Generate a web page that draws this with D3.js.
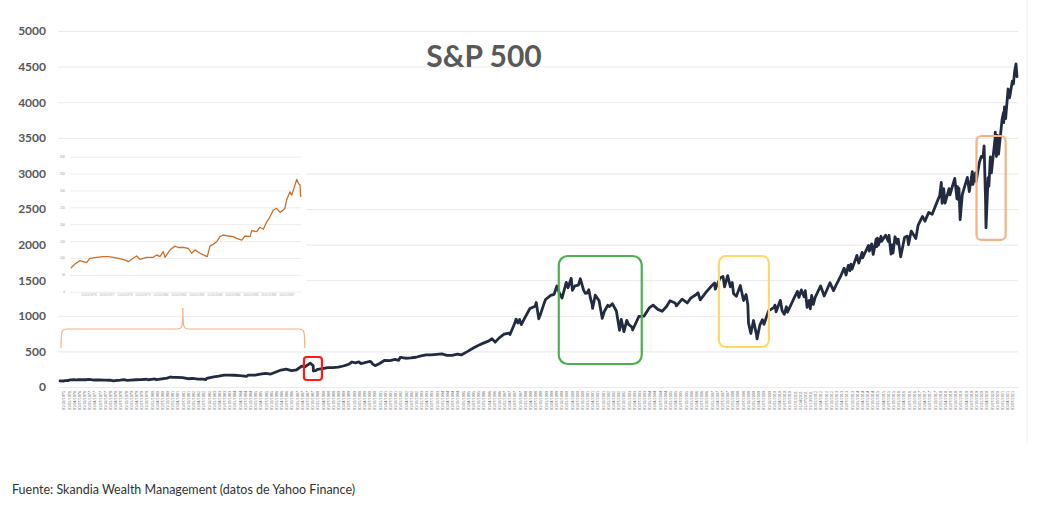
<!DOCTYPE html>
<html><head><meta charset="utf-8">
<script src="https://cdn.jsdelivr.net/npm/d3@7"></script>
<style>body{margin:0;background:#fff}svg{display:block}</style>
</head><body>
<svg id="c" width="1064" height="519"></svg>
<script>
// ---------- DATA ----------
const yTicks = [0,500,1000,1500,2000,2500,3000,3500,4000,4500,5000];
const mainSeries = [
["1975-08-01",85],["1975-09-28",84],["1975-10-28",89],["1975-11-28",91],["1975-12-28",90],
["1976-01-28",101],["1976-02-28",100],["1976-03-28",103],["1976-04-28",101],["1976-05-28",100],["1976-06-28",104],["1976-08-28",102],["1976-09-28",105],["1976-10-28",102],["1976-12-28",107],
["1977-03-28",98],["1977-06-28",100],["1977-09-28",96],["1977-12-28",95],
["1978-02-28",87],["1978-03-28",89],["1978-06-28",96],["1978-08-28",103],["1978-10-28",93],["1978-12-28",96],
["1979-03-28",102],["1979-06-28",103],["1979-09-28",109],["1979-10-28",102],["1979-12-28",108],
["1980-02-28",114],["1980-03-28",102],["1980-06-28",115],["1980-09-28",125],["1980-11-28",141],["1980-12-28",136],
["1981-03-28",136],["1981-06-28",131],["1981-09-28",116],["1981-12-28",122],
["1982-03-28",112],["1982-06-28",110],["1982-08-10",103],["1982-08-28",120],["1982-10-28",133],["1982-12-28",141],
["1983-03-28",153],["1983-06-28",168],["1983-09-28",166],["1983-12-28",165],
["1984-03-28",159],["1984-06-28",153],["1984-07-28",150],["1984-08-28",167],["1984-12-28",167],
["1985-03-28",181],["1985-06-28",192],["1985-09-28",182],["1985-12-28",211],
["1986-03-28",238],["1986-06-28",251],["1986-09-28",231],["1986-12-28",242],
["1987-03-28",292],["1987-05-28",285],["1987-06-28",304],["1987-08-25",334],["1987-10-15",300],["1987-10-19",225],["1987-11-28",230],["1987-12-28",247],
["1988-03-28",259],["1988-06-28",273],["1988-09-28",272],["1988-12-28",278],
["1989-03-28",295],["1989-06-28",318],["1989-08-28",351],["1989-10-28",340],["1989-12-28",353],
["1990-01-28",329],["1990-03-28",339],["1990-06-28",358],["1990-07-28",356],["1990-08-28",322],["1990-10-11",300],["1990-12-28",330],
["1991-03-28",375],["1991-06-28",371],["1991-09-28",388],["1991-11-28",375],["1991-12-28",417],
["1992-03-28",404],["1992-06-28",408],["1992-09-28",418],["1992-12-28",436],
["1993-03-28",452],["1993-06-28",451],["1993-09-28",459],["1993-12-28",466],
["1994-03-28",445],["1994-06-28",444],["1994-09-28",463],["1994-12-08",450],["1994-12-28",459],
["1995-03-28",500],["1995-06-28",545],["1995-09-28",584],["1995-12-28",616],
["1996-03-28",645],["1996-05-28",678],["1996-07-24",630],["1996-09-28",687],["1996-12-28",741],
["1997-03-28",757],["1997-04-11",737],["1997-06-28",885],["1997-07-28",954],["1997-08-28",899],["1997-09-28",947],["1997-10-27",876],["1997-12-28",970],
["1998-03-28",1102],["1998-06-28",1134],["1998-07-17",1186],["1998-08-31",957],["1998-09-28",1017],["1998-11-28",1164],["1998-12-28",1229],
["1999-03-28",1286],["1999-05-28",1302],["1999-07-16",1418],["1999-08-28",1320],["1999-10-15",1250],["1999-12-28",1469],
["2000-01-28",1394],["2000-03-24",1527],["2000-04-14",1357],["2000-05-28",1420],["2000-07-28",1430],["2000-09-01",1520],["2000-10-28",1360],["2000-11-28",1315],["2000-12-28",1320],
["2001-01-28",1366],["2001-02-28",1240],["2001-03-28",1160],["2001-04-04",1103],["2001-05-21",1290],["2001-07-28",1211],["2001-09-21",965],["2001-10-28",1060],["2001-12-28",1148],
["2002-01-28",1130],["2002-03-19",1170],["2002-05-28",1067],["2002-07-23",797],["2002-08-22",950],["2002-09-28",815],["2002-10-09",777],["2002-11-27",936],["2002-12-28",880],
["2003-02-28",841],["2003-03-11",800],["2003-06-28",990],["2003-09-28",996],["2003-12-28",1111],
["2004-03-05",1150],["2004-05-28",1090],["2004-08-12",1063],["2004-10-28",1130],["2004-12-28",1212],
["2005-03-28",1180],["2005-04-20",1140],["2005-07-28",1234],["2005-10-28",1180],["2005-12-28",1248],
["2006-03-28",1295],["2006-05-05",1325],["2006-06-13",1223],["2006-09-28",1335],["2006-12-28",1418],
["2007-02-20",1460],["2007-03-05",1375],["2007-05-28",1530],["2007-07-19",1553],["2007-08-15",1406],["2007-10-09",1565],["2007-11-26",1407],["2007-12-28",1468],
["2008-01-22",1310],["2008-03-10",1273],["2008-05-19",1426],["2008-07-15",1214],["2008-08-28",1300],["2008-09-28",1160],["2008-10-10",899],["2008-11-20",752],["2008-12-28",900],
["2009-01-06",934],["2009-02-28",735],["2009-03-09",676],["2009-04-28",870],["2009-06-12",946],["2009-07-10",880],["2009-09-28",1070],["2009-12-28",1115],
["2010-01-19",1150],["2010-02-08",1056],["2010-04-23",1217],["2010-05-25",1070],["2010-07-02",1022],["2010-08-09",1127],["2010-08-27",1050],["2010-12-28",1258],
["2011-02-18",1343],["2011-03-16",1257],["2011-04-29",1363],["2011-06-16",1267],["2011-07-07",1353],["2011-08-08",1119],["2011-09-16",1216],["2011-10-03",1099],["2011-10-27",1285],["2011-11-25",1159],["2011-12-28",1258],
["2012-04-02",1419],["2012-06-04",1278],["2012-09-14",1465],["2012-11-15",1353],["2012-12-28",1426],
["2013-03-28",1569],["2013-05-21",1669],["2013-06-24",1573],["2013-08-02",1709],["2013-08-30",1633],["2013-09-18",1725],["2013-10-08",1655],["2013-12-31",1848],
["2014-02-03",1741],["2014-04-02",1890],["2014-04-11",1815],["2014-07-24",1988],["2014-08-07",1910],["2014-09-18",2011],["2014-10-15",1862],["2014-12-05",2075],["2014-12-16",1972],["2014-12-29",2090],
["2015-01-15",1992],["2015-03-02",2117],["2015-03-10",2044],["2015-05-21",2131],["2015-07-08",2046],["2015-07-20",2128],["2015-08-25",1867],["2015-09-16",1995],["2015-09-28",1881],["2015-11-03",2110],["2015-12-14",2012],["2015-12-29",2078],
["2016-02-11",1829],["2016-04-20",2102],["2016-06-08",2119],["2016-06-27",2000],["2016-08-15",2190],["2016-11-04",2085],["2016-12-13",2271],
["2017-03-01",2395],["2017-04-13",2329],["2017-06-19",2453],["2017-08-18",2425],["2017-10-30",2572],["2017-12-29",2690],
["2018-01-26",2872],["2018-02-08",2581],["2018-03-09",2786],["2018-04-02",2582],["2018-06-12",2786],["2018-06-27",2700],["2018-09-20",2930],["2018-10-29",2641],["2018-11-07",2813],["2018-11-23",2632],["2018-12-03",2790],["2018-12-24",2351],
["2019-01-31",2704],["2019-04-30",2945],["2019-06-03",2744],["2019-07-26",3025],["2019-08-05",2844],["2019-09-19",3006],["2019-10-02",2887],["2019-11-27",3153],["2019-12-31",3240],
["2020-01-31",3225],["2020-02-19",3386],["2020-03-11",2741],["2020-03-13",2711],["2020-03-23",2237],["2020-04-29",2939],["2020-05-13",2820],["2020-06-08",3232],["2020-06-26",3009],["2020-08-31",3500],["2020-09-02",3580],["2020-09-23",3237],["2020-10-12",3534],["2020-10-30",3270],["2020-12-31",3756],
["2021-01-25",3855],["2021-01-29",3714],["2021-02-12",3934],["2021-03-04",3768],["2021-04-16",4185],["2021-05-12",4063],["2021-06-30",4297],["2021-07-19",4258],["2021-08-10",4436],["2021-09-02",4537],["2021-09-20",4358]
];

const insetDates = ["1975-01-02","1975-03-28","1975-07-08","1975-09-12","1975-11-20","1976-01-26","1976-06-13","1976-10-23","1977-02-02","1977-05-15","1977-09-27","1978-02-13","1978-03-18","1978-06-24","1978-09-01","1978-11-10","1979-03-25","1979-08-07","1979-10-15","1979-12-20","1980-02-24","1980-04-01","1980-07-13","1980-10-20","1980-12-28","1981-04-10","1981-07-20","1981-09-24","1981-12-02","1982-03-15","1982-05-20","1982-08-08","1982-10-01","1982-12-10","1983-02-14","1983-04-23","1983-06-26","1983-10-08","1984-01-18","1984-03-28","1984-07-08","1984-09-13","1984-12-24","1985-01-26","1985-05-08","1985-07-13","1985-09-20","1985-11-28","1986-02-03","1986-04-10","1986-06-17","1986-08-25","1986-10-30","1986-12-02","1987-01-05","1987-03-15","1987-04-17","1987-05-23","1987-07-31","1987-09-02","1987-10-05","1987-10-19"];
const insetValues = [69,82,92,89,86,99,102,104,104,102,98,92,89,99,106,96,102,102,109,104,119,102,124,135,131,131,128,114,124,114,109,104,135,141,148,163,168,165,163,158,153,165,163,181,178,191,185,207,222,242,247,235,242,247,272,296,286,301,333,321,316,281];
const insetYTicks = [0,50,100,150,200,250,300,350,400];

const titleText = "S&P 500";
const sourceText = "Fuente: Skandia Wealth Management (datos de Yahoo Finance)";

// highlight boxes
const boxStarts = ["1987-05-05","1999-08-18","2007-05-08","2019-10-08"];
const boxEnds   = ["1988-03-17","2003-08-18","2009-10-04","2021-03-04"];
const boxTops   = [421,1840,1840,3525];
const boxBottoms= [98,323,562,2065];
const boxColors = ["#ff1a1a","#4caf50","#ffd966","#f4b183"];
const boxRadii  = [3,9,7,5];

// ---------- DRAW ----------
const parse = d3.timeParse("%Y-%m-%d");
const svg = d3.select("#c");
const W=1064,H=519;
svg.append("rect").attr("width",W).attr("height",H).attr("fill","#fff");

const mainData = mainSeries.map(p=>({d:parse(p[0]),v:p[1]}));
const x = d3.scaleTime().domain([parse("1975-08-01"),parse("2021-09-20")]).range([60,1017]);
const y = d3.scaleLinear().domain([0,5000]).range([387,31]);

svg.append("line").attr("x1",1027).attr("x2",1027).attr("y1",0).attr("y2",445).attr("stroke","#f2f2f2");

// grid
const gy = svg.append("g").attr("transform","translate(58,0)")
  .call(d3.axisLeft(y).tickValues(yTicks).tickSize(-960).tickFormat(""));
gy.select(".domain").remove();
gy.selectAll(".tick line").attr("stroke","#e9e9e9").attr("stroke-width",1);

// y labels
svg.append("g").selectAll("text").data(yTicks).join("text")
  .attr("x",46).attr("y",d=>y(d)).attr("dy","0.36em").attr("text-anchor","end")
  .attr("font-family","Lato").attr("font-weight",700).attr("font-size",12).attr("fill","#595959")
  .text(d=>d);

// x axis labels (tiny rotated dates)
const fmt = d3.timeFormat("%d/%m/%Y");
const xt = svg.append("g").attr("transform","translate(0,391)")
  .call(d3.axisBottom(x).ticks(d3.timeMonth.every(3)).tickSize(0).tickFormat(fmt));
xt.select(".domain").remove();
xt.selectAll("text")
  .attr("transform","rotate(-90)").attr("x",0).attr("y",0).attr("dy","0.35em").attr("text-anchor","end")
  .attr("font-family","Liberation Sans").attr("font-size",3.8).attr("fill","#707070");

// main line
svg.append("path").datum(mainData)
  .attr("d",d3.line().x(d=>x(d.d)).y(d=>y(d.v)))
  .attr("fill","none").attr("stroke","#222b40").attr("stroke-width",2.8)
  .attr("stroke-linejoin","round").attr("stroke-linecap","round");

// highlight boxes
svg.append("g").selectAll("rect").data(boxStarts).join("rect")
  .attr("x",d=>x(parse(d)))
  .attr("width",(d,i)=>x(parse(boxEnds[i]))-x(parse(d)))
  .attr("y",(d,i)=>y(boxTops[i]))
  .attr("height",(d,i)=>y(boxBottoms[i])-y(boxTops[i]))
  .attr("rx",(d,i)=>boxRadii[i])
  .attr("fill","none").attr("stroke",(d,i)=>boxColors[i]).attr("stroke-width",2.2);

// ---------- INSET ----------
const ig = svg.append("g");
ig.append("rect").attr("x",54).attr("y",140).attr("width",252).attr("height",160).attr("fill","#fff");
const insetData = insetDates.map((d,i)=>({d:parse(d),v:insetValues[i]}));
const ix = d3.scaleTime().domain([parse("1975-01-02"),parse("1987-10-19")]).range([70.7,300.7]);
const iy = d3.scaleLinear().domain([0,400]).range([291.7,156.7]);
const igy = ig.append("g").attr("transform","translate(70,0)")
  .call(d3.axisLeft(iy).tickValues(insetYTicks).tickSize(-231).tickPadding(5).tickFormat(d=>d));
igy.select(".domain").remove();
igy.selectAll(".tick line").attr("stroke","#ececec");
igy.selectAll("text").attr("font-size",3).attr("fill","#999").attr("font-family","Liberation Sans");
const igx = ig.append("g").attr("transform","translate(0,292.5)")
  .call(d3.axisBottom(ix).ticks(d3.timeYear.every(1)).tickSize(0).tickPadding(1.5).tickFormat(d3.timeFormat("%d/%m/%Y")));
igx.select(".domain").remove();
igx.selectAll("text").attr("font-size",3).attr("fill","#aaa").attr("font-family","Liberation Sans");
ig.append("path").datum(insetData)
  .attr("d",d3.line().x(d=>ix(d.d)).y(d=>iy(d.v)))
  .attr("fill","none").attr("stroke","#c8702a").attr("stroke-width",1.3).attr("stroke-linejoin","round");

// brace
const bx0 = x(parse("1975-08-01"))+1, bx1 = x(parse("1987-05-20")), bm = (bx0+bx1)/2;
const by = 329, byEnd = 348, byTip = 308;
svg.append("path")
  .attr("d",`M${bx0},${byEnd} C${bx0},${by} ${bx0+1},${by} ${bx0+6},${by} L${bm-6},${by} C${bm-1},${by} ${bm},${by} ${bm},${byTip} C${bm},${by} ${bm+1},${by} ${bm+6},${by} L${bx1-6},${by} C${bx1-1},${by} ${bx1},${by} ${bx1},${byEnd}`)
  .attr("fill","none").attr("stroke","#f4b183").attr("stroke-width",1.2);

// title
svg.append("text").attr("x",484).attr("y",67).attr("text-anchor","middle")
  .attr("font-family","Lato").attr("font-weight",700).attr("font-size",30).attr("fill","#595959")
  .text(titleText);

// source
svg.append("text").attr("x",12).attr("y",494)
  .attr("font-family","Lato").attr("font-size",12.5).attr("fill","#333")
  .text(sourceText);
</script>
</body></html>
